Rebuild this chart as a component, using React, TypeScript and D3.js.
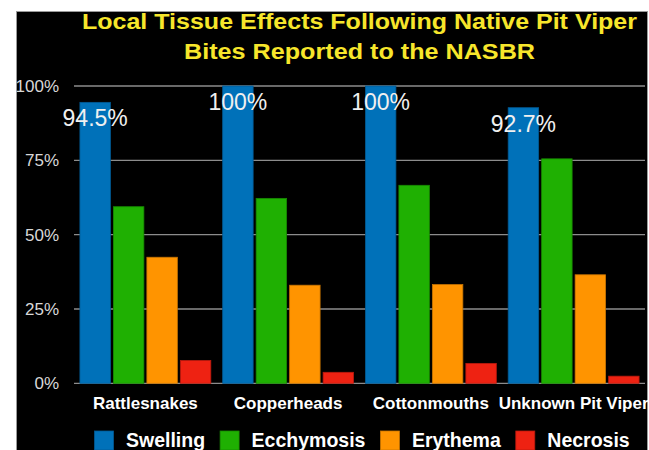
import React, { useRef, useEffect } from "react";
import * as d3 from "d3";

// data
const snakes = ["Rattlesnakes", "Copperheads", "Cottonmouths", "Unknown Pit Viper"];
const effects = ["Swelling", "Ecchymosis", "Erythema", "Necrosis"];
const swelling = [94.5, 100, 100, 92.7];
const ecchymosis = [59.4, 62.2, 66.6, 75.5];
const erythema = [42.4, 33.0, 33.2, 36.5];
const necrosis = [7.7, 3.7, 6.7, 2.4];
const swellingLabels = ["94.5%", "100%", "100%", "92.7%"];
const yTicks = [0, 25, 50, 75, 100];
const titleLines = ["Local Tissue Effects Following Native Pit Viper", "Bites Reported to the NASBR"];
const colors = ["#0071b9", "#1fb002", "#ff9400", "#ee2212"];
const strokes = ["#005a94", "#188a02", "#c87400", "#b81a0e"];

const App = () => {
  const container = useRef(null);

  const width = 649;
  const height = 450;

  useEffect(() => {
    const svg = d3.select(container.current);
    svg.selectAll("*").remove();

    const font = "'Helvetica Neue', Helvetica, 'Liberation Sans', Arial, sans-serif";

    // white page with the black slide panel
    svg.append("rect").attr("width", width).attr("height", height).attr("fill", "#fff");
    svg
      .append("rect")
      .attr("x", 16.5)
      .attr("y", 11.5)
      .attr("width", 631)
      .attr("height", 450)
      .attr("fill", "#000")
      .attr("stroke", "#9a9a9a")
      .attr("stroke-width", 1);

    // title (stretched to the width of the original slide font)
    const titleWidths = [555, 351];
    const titleY = [28.5, 59.3];
    titleLines.forEach((line, i) => {
      svg
        .append("text")
        .attr("x", 359.5)
        .attr("y", titleY[i])
        .attr("text-anchor", "middle")
        .attr("textLength", titleWidths[i])
        .attr("lengthAdjust", "spacingAndGlyphs")
        .style("font-family", font)
        .style("font-weight", "bold")
        .style("font-size", "21.5px")
        .attr("fill", "#f7e62b")
        .text(line);
    });

    // scales
    const x0 = d3
      .scaleBand()
      .domain(snakes)
      .range([74, 645])
      .paddingInner(0.083)
      .paddingOuter(0.0415);

    const x1 = d3
      .scaleBand()
      .domain(effects)
      .range([0, x0.bandwidth()])
      .paddingInner(0.09)
      .paddingOuter(0);

    const y = d3.scaleLinear().domain([0, 100]).range([383.3, 86]);

    // grid + y labels
    const grid = svg.append("g");
    grid
      .selectAll("line")
      .data(yTicks)
      .enter()
      .append("line")
      .attr("x1", 74)
      .attr("x2", 645)
      .attr("y1", (d) => y(d))
      .attr("y2", (d) => y(d))
      .attr("stroke", "#8c8c8c")
      .attr("stroke-width", 1.3);

    grid
      .selectAll("text")
      .data(yTicks)
      .enter()
      .append("text")
      .attr("x", 59)
      .attr("y", (d) => y(d))
      .attr("dy", "0.36em")
      .attr("text-anchor", "end")
      .style("font-family", font)
      .style("font-size", "17px")
      .attr("fill", "#d8d8d8")
      .text((d) => d + "%");

    // bars
    const series = [swelling, ecchymosis, erythema, necrosis];
    const rows = snakes.map((s, i) => ({
      snake: s,
      values: effects.map((e, k) => ({ effect: e, k, value: series[k][i] })),
    }));

    const groups = svg
      .selectAll(".group")
      .data(rows)
      .enter()
      .append("g")
      .attr("class", "group")
      .attr("transform", (d) => `translate(${x0(d.snake)},0)`);

    groups
      .selectAll("rect")
      .data((d) => d.values)
      .enter()
      .append("rect")
      .attr("x", (d) => x1(d.effect))
      .attr("y", (d) => y(d.value))
      .attr("width", x1.bandwidth())
      .attr("height", (d) => y(0) - y(d.value))
      .attr("fill", (d) => colors[d.k])
      .attr("stroke", (d) => strokes[d.k])
      .attr("stroke-width", 0.8);

    // swelling value labels
    svg
      .selectAll(".vlabel")
      .data(rows)
      .enter()
      .append("text")
      .attr("class", "vlabel")
      .attr("x", (d) => x0(d.snake) + x1("Swelling") + x1.bandwidth() / 2)
      .attr("y", (d, i) => y(swelling[i]) + 24)
      .attr("text-anchor", "middle")
      .style("font-family", font)
      .style("font-size", "23px")
      .attr("fill", "#f0f0f0")
      .text((d, i) => swellingLabels[i]);

    // category labels
    svg
      .selectAll(".xlabel")
      .data(snakes)
      .enter()
      .append("text")
      .attr("class", "xlabel")
      .attr("x", (d) => x0(d) + x0.bandwidth() / 2)
      .attr("y", 409)
      .attr("text-anchor", "middle")
      .style("font-family", font)
      .style("font-weight", "bold")
      .style("font-size", "17px")
      .attr("fill", "#fff")
      .text((d) => d);

    // legend, laid out left to right by measured text
    const legend = svg.append("g");
    let lx = 94.5;
    effects.forEach((e, k) => {
      legend
        .append("rect")
        .attr("x", lx)
        .attr("y", 431)
        .attr("width", 19)
        .attr("height", 19)
        .attr("fill", colors[k])
        .attr("stroke", strokes[k])
        .attr("stroke-width", 0.8);
      const t = legend
        .append("text")
        .attr("x", lx + 31.5)
        .attr("y", 447.3)
        .style("font-family", font)
        .style("font-weight", "bold")
        .style("font-size", "19.5px")
        .attr("fill", "#fff")
        .text(e);
      const w = (t.node() as SVGTextElement).getComputedTextLength();
      lx = lx + 31.5 + w + 15;
    });
  }, []);

  return (
    <div style={{ position: "absolute", left: 0, top: 0, width: width, height: height }}>
      <svg ref={container} width={width} height={height} style={{ display: "block" }} />
    </div>
  );
};

export default App;
